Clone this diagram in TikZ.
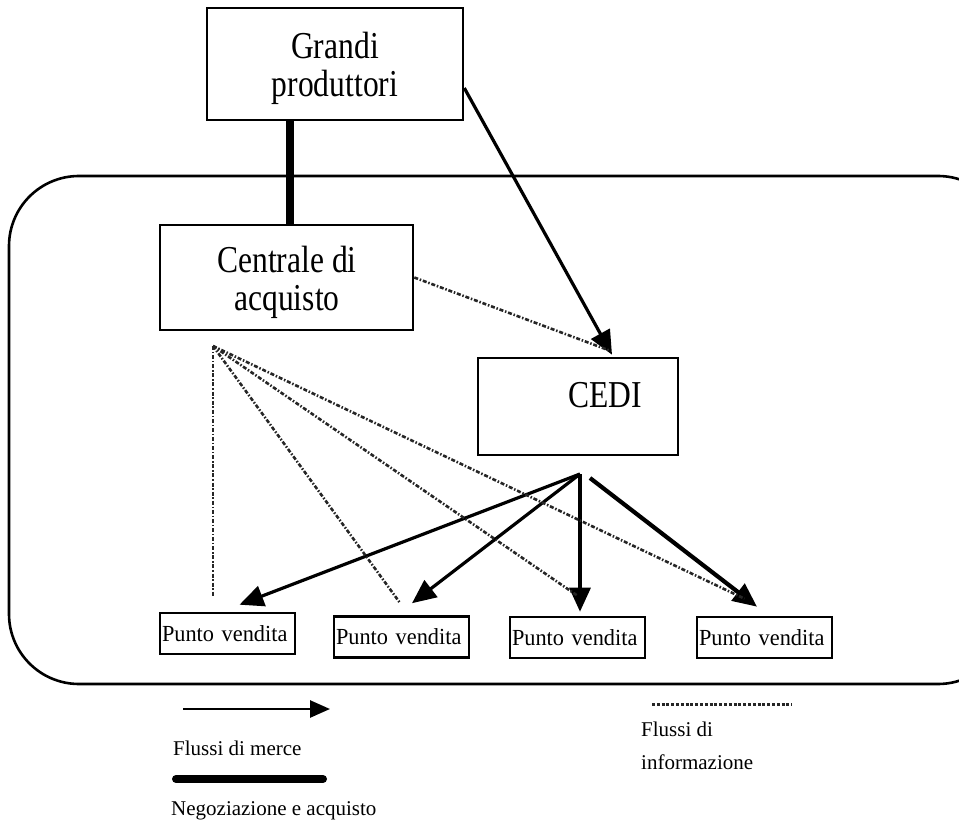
\documentclass[tikz,border=0pt]{standalone}
\usepackage{fontspec}
\setmainfont{Liberation Serif}
\newfontfamily\condfont{Liberation Serif}[FakeStretch=0.83]
\newfontfamily\semifont{Liberation Serif}[FakeStretch=0.97]
\usetikzlibrary{arrows.meta}
\begin{document}
\begin{tikzpicture}[x=1pt,y=-1pt,
  box/.style={draw,line width=2.6pt,rectangle,inner sep=0pt,align=center},
  bigtext/.style={font=\condfont\fontsize{38}{38}\selectfont,inner sep=0pt,align=center},
  pvbox/.style={draw,line width=2.6pt,rectangle,inner sep=0pt,minimum width=135pt,minimum height=41pt,text width=131pt,align=left,font=\semifont\fontsize{23}{24}\selectfont},
  merce/.style={line width=3.2pt,-{Triangle[length=24pt,width=21pt]}},
  neg/.style={line width=8pt},
  info/.style={line width=2.6pt,black!85,dash pattern=on 4pt off 1.8pt on 1.5pt off 1.8pt},
  lab/.style={font=\fontsize{21}{33}\selectfont,inner sep=0pt,align=left}]
\useasboundingbox (0,0) rectangle (959,821);
% outer rounded region
\draw[line width=2.6pt,rounded corners=70pt] (9,176) rectangle (1008,684);
% boxes
\node[box,minimum width=256pt,minimum height=112pt] (gp) at (335,64) {};
\node[bigtext] (gptxt) at (335,68) {Grandi\\produttori};
\node[box,minimum width=253pt,minimum height=105pt] (ca) at (286.5,277.5) {};
\node[bigtext] (catxt) at (287,282) {Centrale di\\acquisto};
\node[box,minimum width=200pt,minimum height=97pt] (cedi) at (578,406.5) {};
\node[bigtext] (ceditxt) at (605,395) {CEDI};
\node[pvbox] (pv1) at (227.5,633.5) {Punto vendita};
\node[pvbox] (pv2) at (401.5,637) {Punto vendita};
\node[pvbox] (pv3) at (577.5,637.5) {Punto vendita};
\node[pvbox] (pv4) at (764.5,637.5) {Punto vendita};
% coordinates
\coordinate (apex) at (213,346);
\coordinate (src) at (580,474);
% negotiation
\draw[neg] ([xshift=3.5pt]ca.north) -- ([xshift=3.5pt]ca.north |- gp.south);
% goods flows
\draw[merce] ([yshift=-24pt]gp.east) -- ([xshift=34pt,yshift=2pt]cedi.north);
\draw[merce] (src) -- ([xshift=12pt,yshift=7pt]pv1.north);
\draw[merce] (src) -- ([xshift=10.5pt,yshift=12pt]pv2.north);
\draw[merce] (src) -- ([xshift=2.5pt,yshift=4pt]pv3.north);
\draw[merce,line width=4.2pt] ([xshift=10pt,yshift=-4pt]src) -- ([xshift=-7.5pt,yshift=9pt]pv4.north);
% information flows
\draw[info] (ca.east) -- ([xshift=32pt,yshift=6pt]cedi.north);
\draw[info] (apex) -- ([yshift=15pt]apex |- pv1.north);
\draw[info] (apex) -- ([xshift=-2pt,yshift=13pt]pv2.north);
\draw[info] (apex) -- ([xshift=0pt,yshift=20pt]pv3.north);
\draw[info] (apex) -- ([xshift=-20pt,yshift=17pt]pv4.north);
% legend
\coordinate (la1) at (183,709);
\coordinate (la2) at (330,709);
\draw[line width=2.6pt,-{Triangle[length=20pt,width=17pt]}] (la1) -- (la2);
\node[lab,anchor=west] (lt1) at (173,748) {Flussi di merce};
\coordinate (ln1) at (176,779);
\coordinate (ln2) at (323,779);
\draw[neg,line cap=round] (ln1) -- (ln2);
\node[lab,anchor=west] (lt2) at (171,811) {Negoziazione e acquisto};
\coordinate (li1) at (652,704);
\coordinate (li2) at (792,704);
\draw[line width=3pt,black!85,dash pattern=on 3pt off 1.8pt] (li1) -- (li2);
\node[lab,anchor=north west] (lt3) at (641,722) {Flussi di\\informazione};
\end{tikzpicture}
\end{document}
